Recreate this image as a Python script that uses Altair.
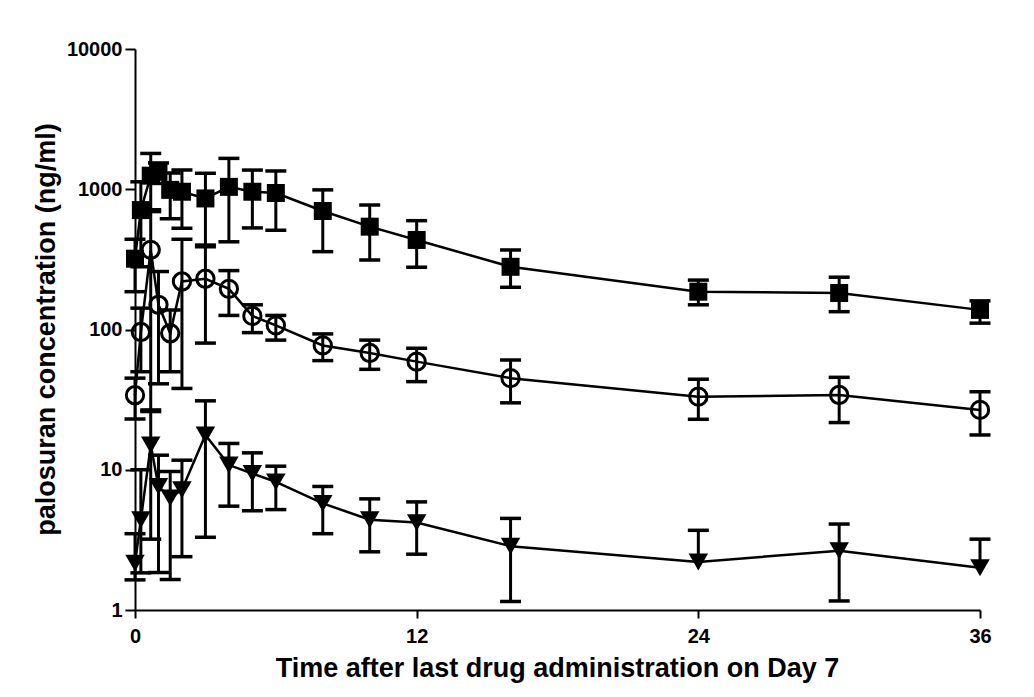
import altair as alt
import pandas as pd

# Sampling times (h)
times = [0, 0.25, 0.67, 1, 1.5, 2, 3, 4, 5, 6, 8, 10, 12, 16, 24, 30, 36]

# Series 1 (filled squares)
sq_mean = [320, 710, 1250, 1330, 990, 960, 860, 1040, 960, 940, 700, 541, 435, 280, 186, 182, 138]
sq_lo = [186, 280, 693, 1100, 617, 527, 400, 422, 530, 510, 359, 313, 278, 200, 150, 134, 111]
sq_hi = [440, 1130, 1800, 1540, 1306, 1372, 1300, 1660, 1370, 1350, 990, 772, 597, 369, 225, 236, 160]

# Series 2 (open circles)
ci_mean = [34, 96, 370, 150, 94, 220, 230, 195, 125, 107, 77, 68, 59, 45, 33.2, 34.1, 26.7]
ci_lo = [23, 50, 26, 41, 50, 38, 80, 126, 95, 84, 60, 52, 42.5, 30, 22.9, 21.7, 17.7]
ci_hi = [45, 142, 714, 259, 138, 440, 389, 263, 150, 126, 93, 84, 73.5, 60.6, 44.2, 45.6, 36]

# Series 3 (filled down-triangles); None = lower bar not shown (below zero)
tr_mean = [2.16, 4.4, 15, 7.6, 6.3, 7.2, 17.7, 10.8, 9.4, 8.2, 5.76, 4.4, 4.2, 2.85, 2.2, 2.65, 2.0]
tr_lo = [1.64, 1.84, 3.2, 1.85, 1.65, 2.4, 3.3, 5.5, 5.1, 5.2, 3.5, 2.6, 2.5, 1.15, None, 1.16, None]
tr_hi = [3.5, 10, 26.7, 12.7, 9.7, 11.7, 31, 15.4, 13.2, 10.6, 7.6, 6.2, 5.9, 4.5, 3.7, 4.1, 3.2]

series = [
    ("sq", sq_mean, sq_lo, sq_hi),
    ("ci", ci_mean, ci_lo, ci_hi),
    ("tr", tr_mean, tr_lo, tr_hi),
]

rows, caps = [], []
for name, m, lo, hi in series:
    for t, v, l, h in zip(times, m, lo, hi):
        rows.append(dict(series=name, t=t, v=v, lo=(l if l is not None else v), hi=h))
        caps.append(dict(series=name, t=t, c=h))
        if l is not None:
            caps.append(dict(series=name, t=t, c=l))
df = pd.DataFrame(rows)
cdf = pd.DataFrame(caps)

FONT = "Liberation Sans"

xscale = alt.Scale(domain=[0, 36], nice=False, zero=False)
yscale = alt.Scale(type="log", domain=[1, 10000], nice=False)

xaxis = alt.Axis(
    values=[0, 12, 24, 36], title="Time after last drug administration on Day 7",
    tickSize=8, labelPadding=8, labelFlush=False, labelOverlap=False,
    titleX=422, titleY=66, titleBaseline="alphabetic", titleAlign="center",
)
yaxis = alt.Axis(
    values=[1, 10, 100, 1000, 10000], format="d", title="palosuran concentration (ng/ml)",
    tickSize=10, labelPadding=3, labelFlush=False, labelOverlap=False,
    titleX=-89, titleY=280, titleBaseline="middle", titleAlign="center", titleAngle=270,
)

X = alt.X("t:Q", scale=xscale, axis=xaxis)

rules = alt.Chart(df).mark_rule(color="black", strokeWidth=3).encode(
    x=X, y=alt.Y("lo:Q", scale=yscale, axis=yaxis), y2="hi:Q"
)
ticks = alt.Chart(cdf).mark_tick(
    orient="horizontal", size=21, thickness=3.5, color="black", opacity=1
).encode(x=X, y=alt.Y("c:Q", scale=yscale, axis=yaxis))

lines = alt.Chart(df).mark_line(color="black", strokeWidth=2.5).encode(
    x=X, y=alt.Y("v:Q", scale=yscale, axis=yaxis), detail="series:N"
)

Y = alt.Y("v:Q", scale=yscale, axis=yaxis)
sq = alt.Chart(df).transform_filter(alt.datum.series == "sq").mark_point(
    shape="square", filled=True, size=324, color="black", opacity=1
).encode(x=X, y=Y)
ci = alt.Chart(df).transform_filter(alt.datum.series == "ci").mark_point(
    shape="circle", filled=False, size=300, color="black", strokeWidth=3, opacity=1
).encode(x=X, y=Y)
tr = alt.Chart(df).transform_filter(alt.datum.series == "tr").mark_point(
    shape="triangle-down", filled=True, size=380, color="black", opacity=1
).encode(x=X, y=Y)

chart = alt.layer(rules, ticks, lines, sq, ci, tr).properties(
    width=845, height=561,
    autosize=alt.AutoSizeParams(type="none"),
    padding={"left": 127, "top": 41, "right": 40, "bottom": 86},
    background="white",
).configure_view(stroke=None).configure_axis(
    grid=False,
    domainColor="black", domainWidth=2,
    tickColor="black", tickWidth=2,
    labelFont=FONT, labelFontWeight="bold", labelFontSize=20, labelColor="black",
    titleFont=FONT, titleFontWeight="bold", titleFontSize=27, titleColor="black",
)

chart.save("out.html", embed_options={"renderer": "svg", "actions": False})
